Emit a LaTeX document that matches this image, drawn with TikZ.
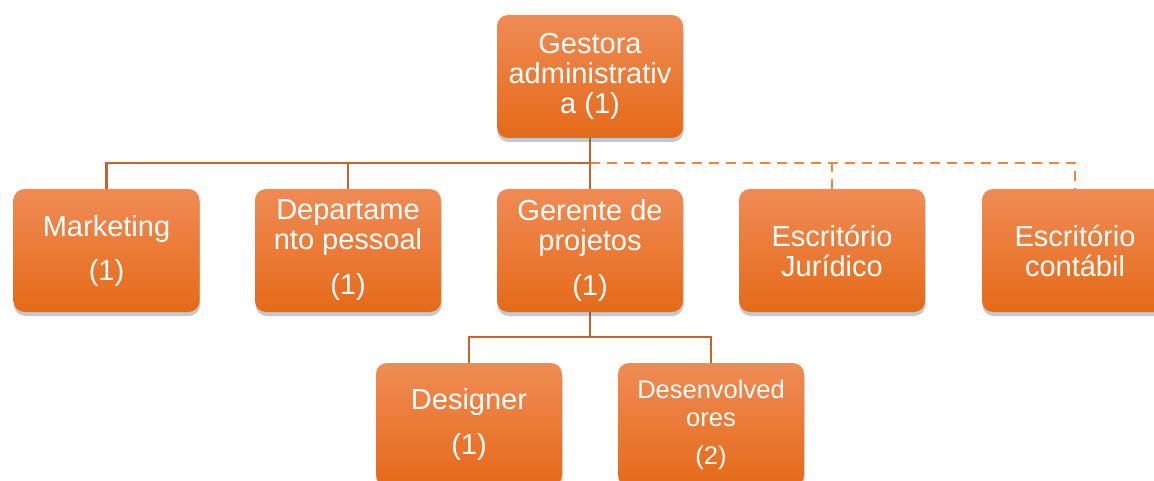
\documentclass[tikz,border=0pt]{standalone}
\usepackage{fontspec}
\setmainfont{Liberation Sans}
\usetikzlibrary{shadows,backgrounds}
\definecolor{orTop}{HTML}{F08B55}
\definecolor{orMid}{HTML}{F47E2E}
\definecolor{orBot}{HTML}{E56A18}
\definecolor{lineSolid}{HTML}{C4642E}
\definecolor{lineDash}{HTML}{EE8440}
\tikzset{
  orgbox/.style={rectangle, rounded corners=11pt, minimum width=186pt, minimum height=123pt,
    inner sep=0pt, top color=orTop, middle color=orMid, bottom color=orBot, draw=none,
    text=white, align=center, font=\fontsize{29}{30}\selectfont,
    drop shadow={shadow xshift=0.5pt, shadow yshift=-4pt, opacity=0.3, fill=black!70}},
  smallbox/.style={orgbox, font=\fontsize{25.5}{28}\selectfont},
  solidline/.style={draw=lineSolid, line width=2.4pt},
  dashline/.style={draw=lineDash, line width=2.4pt, dash pattern=on 10pt off 7pt}
}
\begin{document}
\begin{tikzpicture}[x=1pt,y=-1pt]
\useasboundingbox (0,0) rectangle (1154,481);
\clip (0,0) rectangle (1154,481);
\coordinate (bus) at (590,163);
\coordinate (bus2) at (590,337);
% nodes
\node[orgbox] (gestora) at (590,76.5) {Gestora\\administrativ\\a (1)};
\node[orgbox] (mkt) at (106.5,250.5) {Marketing\\[14pt](1)};
\node[orgbox] (dp) at (348,250.5) {Departame\\nto pessoal\\[15pt](1)};
\node[orgbox] (gp) at (590,250.5) {Gerente de\\projetos\\[15pt](1)};
\node[orgbox] (ej) at (832,250.5) {Escritório\\Jurídico};
\node[orgbox] (ec) at (1075,250.5) {Escritório\\contábil};
\node[orgbox] (des) at (469,424.5) {Designer\\[15pt](1)};
\node[smallbox] (dev) at (711,424.5) {Desenvolved\\ores\\[10pt](2)};
% connectors
\begin{scope}[on background layer]
\fill[white] (0,0) rectangle (1154,481);
\draw[dashline] (bus) -| (ec.north);
\draw[dashline] (ej.north) -- (ej.north |- bus);
\draw[solidline] (mkt.north) |- (bus);
\draw[solidline] (dp.north) -- (dp.north |- bus);
\draw[solidline] (gestora.south) -- (gp.north);
\draw[solidline] (gp.south) -- (bus2);
\draw[solidline] (des.north) |- (bus2) -| (dev.north);
\end{scope}
\end{tikzpicture}
\end{document}
